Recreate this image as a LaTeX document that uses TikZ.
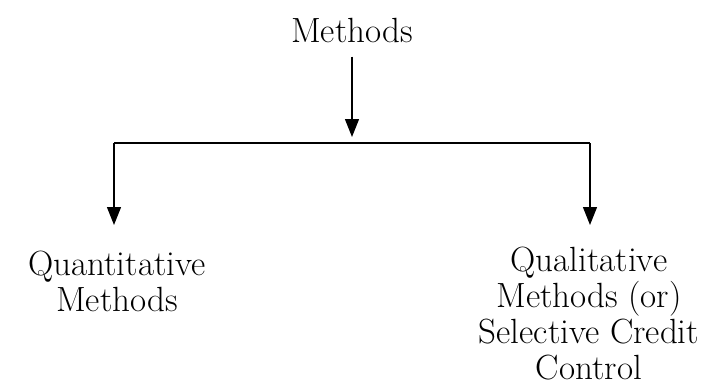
\documentclass[tikz,border=0pt]{standalone}
\usetikzlibrary{arrows.meta}
\tikzset{
    label text/.style={font=\fontsize{17.5}{18}\selectfont, align=center, inner sep=0pt},
    tree arrow/.style={-{Triangle[length=9pt,width=7pt]}, semithick},
}
\begin{document}
\begin{tikzpicture}[x=0.5pt,y=0.5pt]

    \useasboundingbox (0,0) rectangle (714,387);

    \node[label text] (methods) at (352,357) {Methods};
    \node[label text] (quant) at (117,106) {Quantitative\\Methods};
    \node[label text] (qual) at (589,73) {Qualitative\\Methods (or)\\Selective Credit\\Control};

    \coordinate (split) at (352,244);
    \coordinate (lft) at (114,244);
    \coordinate (rgt) at (590,244);
    \coordinate (lfttip) at (114,162);
    \coordinate (rgttip) at (590,162);

    %arrows
    \draw[tree arrow] (methods.south) ++(0,-14) -- ([yshift=3pt]split);
    \draw[semithick] (lft) -- (rgt);
    \draw[tree arrow] (lft) -- (lfttip);
    \draw[tree arrow] (rgt) -- (rgttip);

\end{tikzpicture}
\end{document}
